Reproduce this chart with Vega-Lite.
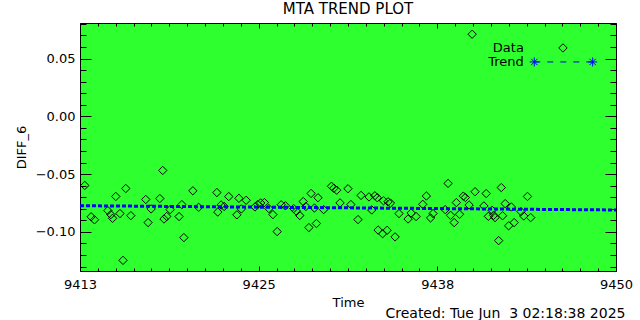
{
  "$schema": "https://vega.github.io/schema/vega-lite/v6.json",
  "autosize": {"type": "none"},
  "padding": {"left": 80, "top": 23, "right": 24, "bottom": 49},
  "width": 536,
  "height": 248,
  "background": "white",
  "title": {"text": "MTA TREND PLOT", "font": "DejaVu Sans", "fontSize": 15, "fontWeight": "normal", "color": "black", "anchor": "middle", "baseline": "bottom", "offset": 4, "dy": 13},
  "datasets": {
    "points": [
      {"time": 9413.33, "value": -0.0598}, {"time": 9413.77, "value": -0.0869}, {"time": 9414.00, "value": -0.0895},
      {"time": 9414.92, "value": -0.0815}, {"time": 9415.13, "value": -0.0850}, {"time": 9415.25, "value": -0.0882},
      {"time": 9415.47, "value": -0.0693}, {"time": 9415.76, "value": -0.0841}, {"time": 9415.97, "value": -0.1246},
      {"time": 9416.16, "value": -0.0624}, {"time": 9416.51, "value": -0.0859}, {"time": 9417.54, "value": -0.0719},
      {"time": 9417.70, "value": -0.0919}, {"time": 9417.91, "value": -0.0801}, {"time": 9418.51, "value": -0.0711},
      {"time": 9418.71, "value": -0.0468}, {"time": 9418.80, "value": -0.0888}, {"time": 9418.99, "value": -0.0866},
      {"time": 9419.22, "value": -0.0807}, {"time": 9419.84, "value": -0.0867}, {"time": 9420.03, "value": -0.0763},
      {"time": 9420.17, "value": -0.1049}, {"time": 9420.79, "value": -0.0644}, {"time": 9421.19, "value": -0.0787},
      {"time": 9422.45, "value": -0.0659}, {"time": 9422.51, "value": -0.0828}, {"time": 9422.74, "value": -0.0767},
      {"time": 9422.95, "value": -0.0780}, {"time": 9423.27, "value": -0.0694}, {"time": 9423.83, "value": -0.0852},
      {"time": 9423.97, "value": -0.0709}, {"time": 9424.14, "value": -0.0801}, {"time": 9424.47, "value": -0.0726},
      {"time": 9425.08, "value": -0.0784}, {"time": 9425.26, "value": -0.0763}, {"time": 9425.47, "value": -0.0749},
      {"time": 9425.73, "value": -0.0746}, {"time": 9426.04, "value": -0.0798}, {"time": 9426.32, "value": -0.0850},
      {"time": 9426.61, "value": -0.0997}, {"time": 9426.89, "value": -0.0765}, {"time": 9427.18, "value": -0.0774},
      {"time": 9427.75, "value": -0.0798}, {"time": 9427.94, "value": -0.0821}, {"time": 9428.17, "value": -0.0858},
      {"time": 9428.41, "value": -0.0737}, {"time": 9428.59, "value": -0.0780}, {"time": 9428.80, "value": -0.0962},
      {"time": 9428.95, "value": -0.0667}, {"time": 9429.18, "value": -0.0793}, {"time": 9429.32, "value": -0.0927},
      {"time": 9429.43, "value": -0.0704}, {"time": 9429.82, "value": -0.0807}, {"time": 9430.36, "value": -0.0605},
      {"time": 9430.52, "value": -0.0622}, {"time": 9430.72, "value": -0.0639}, {"time": 9430.95, "value": -0.0749},
      {"time": 9431.50, "value": -0.0626}, {"time": 9431.70, "value": -0.0763}, {"time": 9432.19, "value": -0.0893},
      {"time": 9432.40, "value": -0.0684}, {"time": 9432.95, "value": -0.0697}, {"time": 9433.14, "value": -0.0810},
      {"time": 9433.35, "value": -0.0687}, {"time": 9433.52, "value": -0.0704}, {"time": 9433.58, "value": -0.0984},
      {"time": 9433.89, "value": -0.1015}, {"time": 9433.95, "value": -0.0730}, {"time": 9434.20, "value": -0.0986},
      {"time": 9434.26, "value": -0.0739}, {"time": 9434.43, "value": -0.0750}, {"time": 9434.75, "value": -0.1043},
      {"time": 9435.02, "value": -0.0841}, {"time": 9435.65, "value": -0.0888}, {"time": 9435.86, "value": -0.0836},
      {"time": 9436.20, "value": -0.0867}, {"time": 9436.66, "value": -0.0761}, {"time": 9436.91, "value": -0.0689},
      {"time": 9437.20, "value": -0.0879}, {"time": 9437.37, "value": -0.0841}, {"time": 9438.21, "value": -0.0807},
      {"time": 9438.41, "value": -0.0580}, {"time": 9438.58, "value": -0.0856}, {"time": 9438.83, "value": -0.0919},
      {"time": 9438.98, "value": -0.0746}, {"time": 9439.20, "value": -0.0847}, {"time": 9439.46, "value": -0.0690},
      {"time": 9439.60, "value": -0.0702}, {"time": 9439.86, "value": -0.0767}, {"time": 9440.07, "value": 0.0711},
      {"time": 9440.27, "value": -0.0652}, {"time": 9440.88, "value": -0.0775}, {"time": 9441.04, "value": -0.0668},
      {"time": 9441.19, "value": -0.0865}, {"time": 9441.45, "value": -0.0813}, {"time": 9441.55, "value": -0.0856},
      {"time": 9441.65, "value": -0.0876}, {"time": 9441.90, "value": -0.1075}, {"time": 9442.08, "value": -0.0616},
      {"time": 9442.17, "value": -0.0860}, {"time": 9442.35, "value": -0.0755}, {"time": 9442.59, "value": -0.0947},
      {"time": 9442.78, "value": -0.0784}, {"time": 9442.97, "value": -0.0919}, {"time": 9443.44, "value": -0.0824},
      {"time": 9443.63, "value": -0.0862}, {"time": 9443.89, "value": -0.0693}, {"time": 9444.11, "value": -0.0876}
    ],
    "trend": [
      {"time": 9413, "value": -0.0773},
      {"time": 9450, "value": -0.0810}
    ],
    "legendText": [
      {"time": 9443.64, "value": 0.0592, "label": "Data"},
      {"time": 9443.64, "value": 0.0471, "label": "Trend"}
    ],
    "legendData": [
      {"time": 9446.34, "value": 0.0592}
    ],
    "legendTrend": [
      {"time": 9444.36, "value": 0.0471},
      {"time": 9448.39, "value": 0.0471}
    ]
  },
  "resolve": {"axis": {"x": "independent", "y": "independent"}},
  "layer": [
    {
      "data": {"name": "points"},
      "mark": {"type": "point", "shape": "diamond", "filled": false, "color": "black", "size": 70, "strokeWidth": 1, "opacity": 1},
      "encoding": {
        "x": {"field": "time", "type": "quantitative", "scale": {"domain": [9413, 9450], "nice": false, "zero": false},
          "axis": {"orient": "bottom", "values": [9413, 9425.3333, 9437.6667, 9450], "labelExpr": "format(round(datum.value), 'd')", "tickSize": -5, "labelPadding": 12, "title": "Time", "titleX": 268, "titleY": 35, "titleBaseline": "alphabetic", "titleAlign": "center"}},
        "y": {"field": "value", "type": "quantitative", "scale": {"domain": [-0.1338, 0.0808], "nice": false, "zero": false},
          "axis": {"orient": "left", "values": [-0.1, -0.05, 0, 0.05], "format": ".2f", "tickSize": -11, "labelPadding": 16, "title": "DIFF_6", "titleX": -55, "titleY": 124, "titleBaseline": "alphabetic", "titleAlign": "center", "titleAngle": -90}}
      }
    },
    {
      "data": {"name": "trend"},
      "mark": {"type": "line", "color": "#0000ff", "strokeWidth": 3, "strokeDash": [4, 2]},
      "encoding": {
        "x": {"field": "time", "type": "quantitative", "axis": {"orient": "top", "values": [9413, 9425.3333, 9437.6667, 9450], "labels": false, "tickSize": -5, "title": null}},
        "y": {"field": "value", "type": "quantitative", "axis": {"orient": "right", "values": [-0.1, -0.05, 0, 0.05], "labels": false, "tickSize": -11, "title": null}}
      }
    },
    {
      "data": {"name": "legendText"},
      "mark": {"type": "text", "align": "right", "baseline": "middle", "font": "DejaVu Sans", "fontSize": 13, "color": "black"},
      "encoding": {
        "x": {"field": "time", "type": "quantitative", "axis": {"orient": "bottom", "values": [9414.2333, 9415.4667, 9416.7, 9417.9333, 9419.1667, 9420.4, 9421.6333, 9422.8667, 9424.1, 9426.5667, 9427.8, 9429.0333, 9430.2667, 9431.5, 9432.7333, 9433.9667, 9435.2, 9436.4333, 9438.9, 9440.1333, 9441.3667, 9442.6, 9443.8333, 9445.0667, 9446.3, 9447.5333, 9448.7667], "labels": false, "tickSize": -3, "title": "Created: Tue Jun\u00a0 3 02:18:38 2025", "titleFontSize": 14, "titleX": 545, "titleY": 46, "titleAlign": "right", "titleBaseline": "alphabetic"}},
        "y": {"field": "value", "type": "quantitative", "axis": {"orient": "left", "values": [-0.13, -0.12, -0.11, -0.09, -0.08, -0.07, -0.06, -0.04, -0.03, -0.02, -0.01, 0.01, 0.02, 0.03, 0.04, 0.06, 0.07, 0.08], "labels": false, "tickSize": -6, "title": null}},
        "text": {"field": "label", "type": "nominal"}
      }
    },
    {
      "data": {"name": "legendData"},
      "mark": {"type": "point", "shape": "diamond", "filled": false, "color": "black", "size": 70, "strokeWidth": 1, "opacity": 1},
      "encoding": {
        "x": {"field": "time", "type": "quantitative", "axis": {"orient": "top", "values": [9414.2333, 9415.4667, 9416.7, 9417.9333, 9419.1667, 9420.4, 9421.6333, 9422.8667, 9424.1, 9426.5667, 9427.8, 9429.0333, 9430.2667, 9431.5, 9432.7333, 9433.9667, 9435.2, 9436.4333, 9438.9, 9440.1333, 9441.3667, 9442.6, 9443.8333, 9445.0667, 9446.3, 9447.5333, 9448.7667], "labels": false, "tickSize": -3, "title": null}},
        "y": {"field": "value", "type": "quantitative", "axis": {"orient": "right", "values": [-0.13, -0.12, -0.11, -0.09, -0.08, -0.07, -0.06, -0.04, -0.03, -0.02, -0.01, 0.01, 0.02, 0.03, 0.04, 0.06, 0.07, 0.08], "labels": false, "tickSize": -6, "title": null}}
      }
    },
    {
      "data": {"name": "legendTrend"},
      "mark": {"type": "line", "color": "#0000ff", "strokeWidth": 1, "strokeDash": [6, 7]},
      "encoding": {
        "x": {"field": "time", "type": "quantitative", "axis": null},
        "y": {"field": "value", "type": "quantitative", "axis": null}
      }
    },
    {
      "data": {"name": "legendTrend"},
      "mark": {"type": "point", "shape": "M-1,0L1,0M0,-1L0,1M-0.7,-0.7L0.7,0.7M-0.7,0.7L0.7,-0.7", "filled": false, "color": "#0000ff", "size": 81, "strokeWidth": 1, "opacity": 1},
      "encoding": {
        "x": {"field": "time", "type": "quantitative", "axis": null},
        "y": {"field": "value", "type": "quantitative", "axis": null}
      }
    }
  ],
  "config": {
    "view": {"fill": "#2eff2e", "stroke": "black", "strokeWidth": 1},
    "axis": {"domain": false, "grid": false, "labelFont": "DejaVu Sans", "labelFontSize": 13, "labelColor": "black", "titleFont": "DejaVu Sans", "titleFontSize": 13, "titleFontWeight": "normal", "titleColor": "black", "tickColor": "black", "tickWidth": 1, "labelFlush": false, "labelOverlap": false}
  }
}
